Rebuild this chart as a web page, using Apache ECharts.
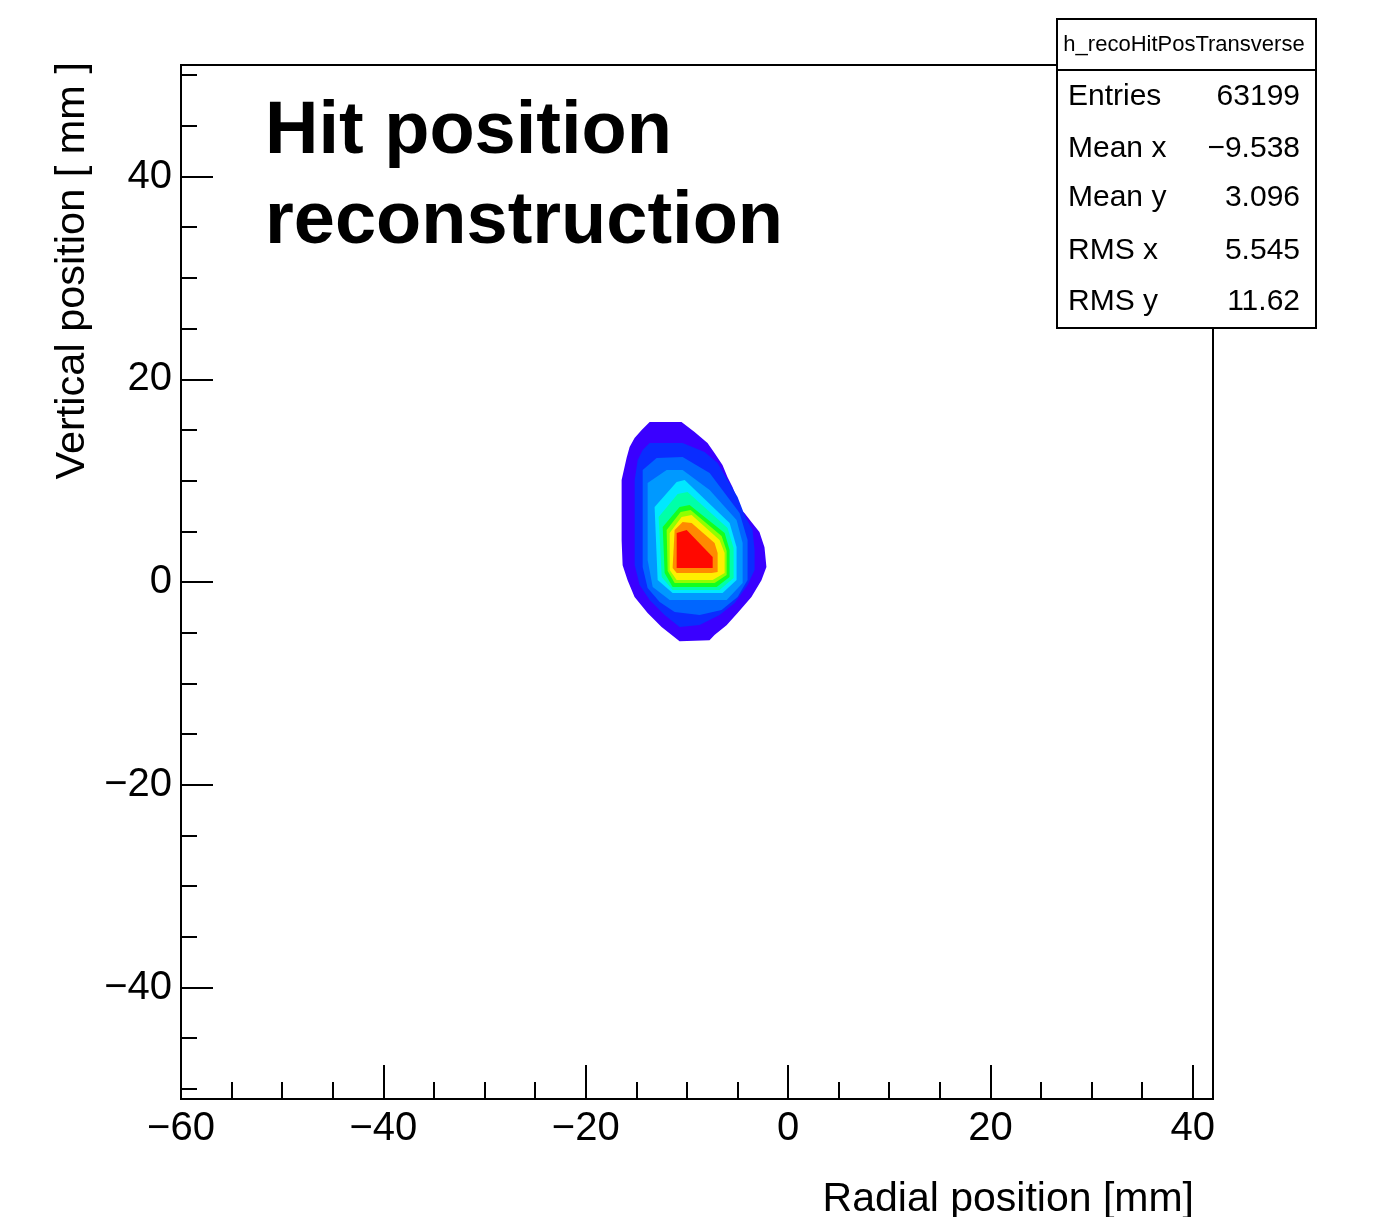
<!DOCTYPE html>
<html>
<head>
<meta charset="utf-8">
<script src="https://cdn.jsdelivr.net/npm/echarts@6/dist/echarts.min.js"></script>
<style>
html,body{margin:0;padding:0;background:#fff;}
#chart{width:1385px;height:1217px;}
</style>
</head>
<body>
<div id="chart"></div>
<script>
// ---- axis ticks ----
const xTicks = [-60, -40, -20, 0, 20, 40];
const xMinorTicks = [-55, -50, -45, -35, -30, -25, -15, -10, -5, 5, 10, 15, 25, 30, 35];
const yTicks = [-40, -20, 0, 20, 40];
const yMinorTicks = [-50, -45, -35, -30, -25, -15, -10, -5, 5, 10, 15, 25, 30, 35, 45, 50];
const xRange = [-60, 42];
const yRange = [-51, 51];

// ---- stats box ----
const statsTitle = 'h_recoHitPosTransverse';
const statsNames = ['Entries', 'Mean x', 'Mean y', 'RMS x', 'RMS y'];
const statsValues = ['63199', '\u22129.538', '3.096', '5.545', '11.62'];

// ---- contour levels (outer -> inner), boundary points in mm ----
const level1 = [[-13.68,15.78],[-10.53,15.78],[-9.24,14.79],[-7.96,13.71],[-7.27,12.72],[-6.48,11.53],[-5.99,10.35],[-5.49,9.36],[-5.10,8.38],[-4.90,7.29],[-4.31,6.80],[-3.62,5.91],[-2.83,4.92],[-2.33,3.44],[-2.14,1.47],[-2.63,0.18],[-3.62,-1.49],[-4.99,-3.07],[-6.08,-4.26],[-7.27,-5.24],[-7.76,-5.74],[-10.72,-5.84],[-12.50,-4.45],[-13.88,-3.07],[-15.17,-1.49],[-15.86,0.18],[-16.35,1.66],[-16.45,4.13],[-16.45,10.05],[-15.96,12.23],[-15.66,13.31],[-15.17,14.20],[-14.47,14.99]];
const level2 = [[-13.68,13.71],[-10.42,13.71],[-8.25,12.82],[-6.96,11.74],[-5.98,10.06],[-4.99,8.38],[-4.30,6.61],[-3.51,5.13],[-3.31,3.16],[-3.31,1.18],[-4.00,-0.30],[-5.28,-2.07],[-6.77,-3.25],[-8.74,-4.24],[-10.72,-4.44],[-12.20,-3.25],[-13.68,-1.78],[-14.67,-0.30],[-15.16,1.68],[-15.16,4.14],[-15.16,10.06],[-14.86,12.03],[-14.37,13.02]];
const level3 = [[-14.37,11.05],[-12.99,12.23],[-10.42,12.33],[-7.75,10.75],[-6.27,8.78],[-4.79,6.80],[-4.00,4.14],[-4.00,0.20],[-4.99,-1.48],[-6.57,-2.76],[-8.74,-3.25],[-11.21,-2.96],[-12.69,-1.97],[-13.88,-0.59],[-14.37,1.48]];
const level4 = [[-13.88,9.76],[-12.00,11.05],[-10.42,11.05],[-7.75,9.07],[-5.09,6.11],[-4.49,3.85],[-4.49,-0.10],[-6.07,-1.78],[-11.70,-1.78],[-13.38,-0.49],[-13.88,2.17]];
const level5 = [[-13.19,7.40],[-11.01,9.86],[-10.22,10.06],[-5.78,5.82],[-5.09,3.45],[-5.09,0.20],[-6.47,-1.08],[-11.41,-1.08],[-12.89,0.20]];
const level6 = [[-12.79,6.41],[-10.91,8.68],[-9.93,8.88],[-5.98,5.33],[-5.38,3.35],[-5.38,0.39],[-6.77,-0.79],[-11.41,-0.79],[-12.49,0.49]];
const level7 = [[-12.39,5.42],[-10.72,7.40],[-9.73,7.59],[-6.27,4.83],[-5.78,3.16],[-5.78,0.49],[-7.06,-0.49],[-11.41,-0.49],[-12.20,0.89]];
const level8 = [[-12.00,5.13],[-10.62,6.90],[-9.63,7.10],[-6.57,4.54],[-6.07,3.06],[-6.07,0.69],[-7.26,-0.10],[-11.21,-0.10],[-11.90,1.08]];
const level9 = [[-11.70,4.83],[-10.52,6.41],[-9.53,6.61],[-6.77,4.14],[-6.27,2.86],[-6.27,0.89],[-7.45,0.20],[-11.01,0.20],[-11.70,1.18]];
const level10 = [[-11.21,5.13],[-10.42,5.92],[-9.53,5.82],[-7.26,3.85],[-6.96,2.86],[-6.96,0.99],[-7.55,0.89],[-11.01,0.89],[-11.41,1.38]];
const level11 = [[-11.01,4.83],[-10.02,5.13],[-7.45,2.47],[-7.45,1.38],[-11.01,1.38]];
const contourLevels = [level1, level2, level3, level4, level5, level6, level7, level8, level9, level10, level11];
const levelColors = ['#3a00ff', '#0a2cff', '#0066ff', '#0099ff', '#00e8ff', '#00ffa8', '#14ff1e', '#90ff00', '#ffee00', '#ff8a00', '#ff0800'];

const FONT = '"Liberation Sans", Arial, Helvetica, sans-serif';
const fmt = v => String(v).replace('-', '\u2212');
const black = '#000';

const chart = echarts.init(document.getElementById('chart'), null, {renderer: 'canvas'});

const graphics = [
  {type: 'text', x: 73, y: 62, rotation: Math.PI / 2,
   style: {text: 'Vertical position [ mm ]', font: '41.5px ' + FONT, fill: black, align: 'right', verticalAlign: 'middle'}},
  {type: 'text', x: 1194, y: 1200,
   style: {text: 'Radial position [mm]', font: '41px ' + FONT, fill: black, align: 'right', verticalAlign: 'middle'}},
  {type: 'rect', shape: {x: 1057, y: 19, width: 259, height: 309}, style: {fill: '#fff', stroke: black, lineWidth: 2}, z: 10},
  {type: 'line', shape: {x1: 1057, y1: 70, x2: 1316, y2: 70}, style: {stroke: black, lineWidth: 2}, z: 11},
  {type: 'text', x: 1184, y: 45, z: 11,
   style: {text: statsTitle, font: '22px ' + FONT, fill: black, align: 'center', verticalAlign: 'middle'}}
];
const rowY = [97, 149, 198, 251, 302];
statsNames.forEach((n, i) => {
  graphics.push({type: 'text', x: 1068, y: rowY[i], z: 11,
    style: {text: n, font: '30px ' + FONT, fill: black, align: 'left', verticalAlign: 'middle'}});
  graphics.push({type: 'text', x: 1300, y: rowY[i], z: 11,
    style: {text: statsValues[i], font: '30px ' + FONT, fill: black, align: 'right', verticalAlign: 'middle'}});
});

const lineStyle = {color: black, width: 2};

chart.setOption({
  animation: false,
  backgroundColor: '#fff',
  title: {
    text: 'Hit position\nreconstruction',
    left: 260, top: 83,
    textStyle: {fontSize: 74, fontWeight: 'bold', lineHeight: 90, fontFamily: FONT, color: black}
  },
  grid: {left: 181, right: 172, top: 65, bottom: 118, show: true, borderColor: black, borderWidth: 2, backgroundColor: 'transparent'},
  xAxis: [
    {type: 'value', min: xRange[0], max: xRange[1], position: 'bottom',
     axisLine: {onZero: false, lineStyle: lineStyle},
     axisTick: {inside: true, length: 34, customValues: xTicks, lineStyle: lineStyle},
     axisLabel: {customValues: xTicks, formatter: fmt, fontSize: 40, color: black, margin: 10, fontFamily: FONT},
     splitLine: {show: false}},
    {type: 'value', min: xRange[0], max: xRange[1], position: 'bottom',
     axisLine: {show: false, onZero: false},
     axisTick: {inside: true, length: 17, customValues: xMinorTicks, lineStyle: lineStyle},
     axisLabel: {show: false},
     splitLine: {show: false}}
  ],
  yAxis: [
    {type: 'value', min: yRange[0], max: yRange[1], position: 'left',
     axisLine: {onZero: false, lineStyle: lineStyle},
     axisTick: {inside: true, length: 32, customValues: yTicks, lineStyle: lineStyle},
     axisLabel: {customValues: yTicks, formatter: fmt, fontSize: 40, color: black, margin: 9, fontFamily: FONT},
     splitLine: {show: false}},
    {type: 'value', min: yRange[0], max: yRange[1], position: 'left',
     axisLine: {show: false, onZero: false},
     axisTick: {inside: true, length: 16, customValues: yMinorTicks, lineStyle: lineStyle},
     axisLabel: {show: false},
     splitLine: {show: false}}
  ],
  series: [{
    type: 'custom',
    coordinateSystem: 'cartesian2d',
    xAxisIndex: 0, yAxisIndex: 0,
    clip: true,
    data: contourLevels.map((lv, i) => [i]),
    encode: {x: [], y: []},
    renderItem: function (params, api) {
      const i = api.value(0);
      const pts = contourLevels[i].map(p => api.coord(p));
      return {type: 'polygon', shape: {points: pts}, style: {fill: levelColors[i]}};
    }
  }],
  graphic: graphics
});
</script>
</body>
</html>
